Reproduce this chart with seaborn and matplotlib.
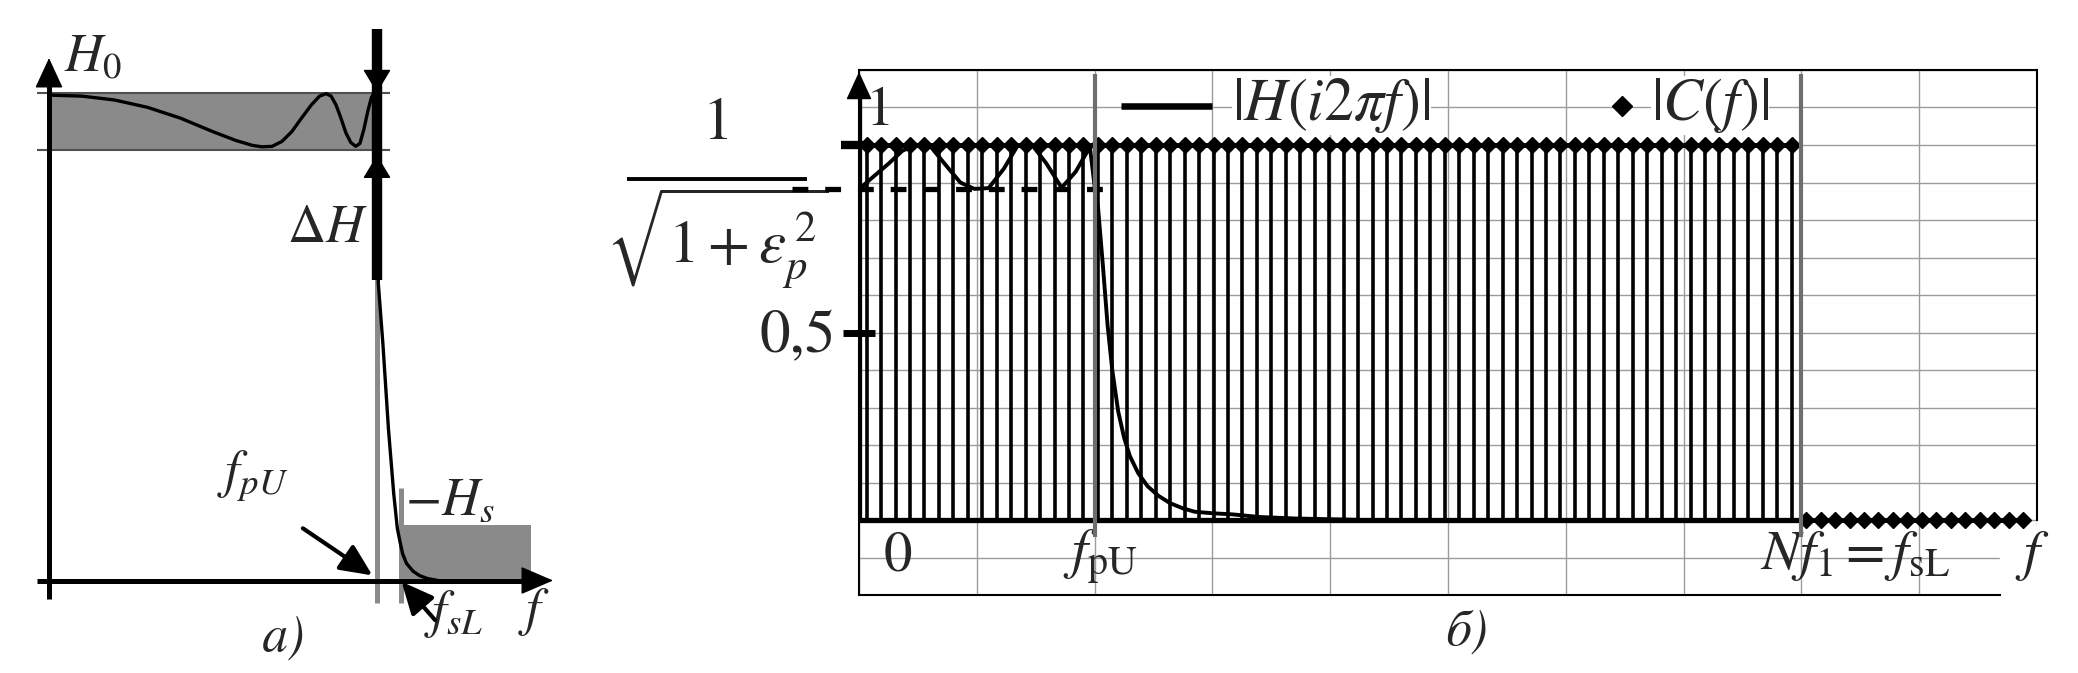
import numpy as np
import matplotlib
matplotlib.use("Agg")
import matplotlib.pyplot as plt
from matplotlib.patches import Rectangle
import seaborn as sns

sns.set_style("white")
plt.rcParams["font.family"] = ["STIXGeneral", "Liberation Serif", "DejaVu Serif"]
plt.rcParams["mathtext.fontset"] = "stix"

# ---- panel a: schematic lowpass response (f in units of f_pU, H in units of H0) ----
a_f = [0.0, 0.10, 0.20, 0.30, 0.40, 0.50, 0.57, 0.62, 0.65, 0.68, 0.71, 0.74, 0.77, 0.80, 0.825,
       0.845, 0.86, 0.875, 0.89, 0.905, 0.92, 0.935, 0.948, 0.96, 0.972, 0.983, 0.992,
       1.004, 1.018, 1.035, 1.051, 1.062, 1.07, 1.078, 1.09, 1.11, 1.13, 1.154, 1.186]
a_h = [0.995, 0.993, 0.985, 0.970, 0.948, 0.920, 0.902, 0.892, 0.889, 0.890, 0.900, 0.920, 0.948, 0.975, 0.993,
       0.998, 0.993, 0.975, 0.948, 0.918, 0.898, 0.890, 0.896, 0.925, 0.962, 0.990, 1.0,
       0.609, 0.485, 0.31, 0.178, 0.107, 0.08, 0.055, 0.035, 0.019, 0.010, 0.004, 0.0]
a_band_lo, a_band_hi = 0.883, 1.0
a_fpu, a_fsl = 1.0, 1.072
a_hs = 0.114
a_stop_end = 1.469

# ---- panel b: |H(i2pi f)| and line spectrum |C(f)| (f in grid units) ----
h_f = [0.0, 0.12, 0.25, 0.37, 0.49, 0.61, 0.74, 0.86, 0.98, 1.10, 1.23, 1.35, 1.47, 1.59, 1.72,
       1.84, 1.96, 2.00, 2.03, 2.07, 2.11, 2.15, 2.20, 2.25, 2.30, 2.37, 2.45, 2.54, 2.64, 2.75,
       2.85, 3.00, 3.17, 3.40, 3.70, 4.00, 4.30]
h_val = [0.882, 0.915, 0.950, 0.985, 1.0, 0.995, 0.945, 0.90, 0.883, 0.885, 0.937, 1.0, 1.0, 0.951, 0.886,
         0.929, 0.995, 0.89, 0.83, 0.68, 0.52, 0.40, 0.29, 0.22, 0.17, 0.125, 0.09, 0.065, 0.045, 0.031,
         0.022, 0.018, 0.015, 0.008, 0.004, 0.002, 0.0]
f_first, f1 = 0.065, 0.1227
n_pass, n_stop = 65, 16
c_pass = [1.0] * n_pass
c_stop = [0.0] * n_stop
fpU, fsL = 2.0, 8.0
ripple = 0.882

f_pass = f_first + f1 * np.arange(n_pass)
f_stop = f_first + f1 * np.arange(n_pass, n_pass + n_stop)

W, H = 2078, 673
fig = plt.figure(figsize=(W / 100, H / 100), dpi=100)

# ================= panel a =================
ax_a = fig.add_axes([0, 0, 600 / W, 1])
ax_a.set_xlim(-0.1494, 1.6799)
ax_a.set_ylim(-0.1896, 1.190)
ax_a.axis("off")

band_grey = "#8a8a8a"
ax_a.fill_between([0, a_fpu], a_band_lo, a_band_hi, color=band_grey, lw=0, zorder=1)
ax_a.hlines([a_band_hi, a_band_lo], -0.036, 1.04, color="#505050", lw=1.5, zorder=2)
ax_a.fill_between([a_fsl, a_stop_end], 0, a_hs, color=band_grey, lw=0, zorder=1)
ax_a.vlines(a_fpu, -0.046, 0.62, color="#8a8a8a", lw=3.6, zorder=3)
ax_a.vlines(a_fsl, -0.046, 0.19, color="#8a8a8a", lw=3.6, zorder=3)
sns.lineplot(x=a_f, y=a_h, ax=ax_a, color="k", lw=2.4, sort=False, estimator=None, zorder=4)

head = dict(color="k", lw=1, shrinkA=0, shrinkB=0, mutation_scale=15)
ax_a.vlines(0, -0.038, 1.03, color="k", lw=3.6, zorder=5)
ax_a.annotate("", xy=(0, 1.071), xytext=(0, 1.0),
              arrowprops=dict(arrowstyle="-|>,head_length=1.3,head_width=0.6", **head))
ax_a.hlines(0, -0.037, 1.49, color="k", lw=3.6, zorder=5)
ax_a.annotate("", xy=(1.537, 0), xytext=(1.45, 0),
              arrowprops=dict(arrowstyle="-|>,head_length=1.4,head_width=0.6", **head))

# delta H marker
ax_a.vlines(a_fpu, 0.616, 1.131, color="k", lw=7.5, zorder=6)
ax_a.annotate("", xy=(a_fpu, a_band_hi), xytext=(a_fpu, 1.08),
              arrowprops=dict(arrowstyle="-|>,head_length=1.0,head_width=0.6", **head), zorder=7)
ax_a.annotate("", xy=(a_fpu, 0.872), xytext=(a_fpu, 0.80),
              arrowprops=dict(arrowstyle="-|>,head_length=1.0,head_width=0.6", **head), zorder=7)

fs_a = 38
ax_a.text(0.045, 1.07, r"$H_0$", fontsize=fs_a, ha="left", va="center")
ax_a.text(0.97, 0.72, r"$\Delta H$", fontsize=fs_a, ha="right", va="center")
ax_a.text(0.62, 0.215, r"$f_{pU}$", fontsize=fs_a, ha="center", va="center")
ax_a.text(1.085, 0.16, r"$-H_s$", fontsize=fs_a, ha="left", va="center")
ax_a.text(1.235, -0.068, r"$f_{sL}$", fontsize=fs_a, ha="center", va="center")
ax_a.text(1.48, -0.065, r"$f$", fontsize=fs_a, ha="center", va="center")
ax_a.text(0.715, -0.12, "а)", fontsize=37, style="italic", ha="center", va="center")
ax_a.annotate("", xy=(0.986, 0.0105), xytext=(0.774, 0.107),
              arrowprops=dict(arrowstyle="-|>,head_length=1.3,head_width=0.6", color="k", lw=3,
                              shrinkA=0, shrinkB=0, mutation_scale=15))
ax_a.annotate("", xy=(1.075, -0.0025), xytext=(1.177, -0.081),
              arrowprops=dict(arrowstyle="-|>,head_length=1.3,head_width=0.6", color="k", lw=3,
                              shrinkA=0, shrinkB=0, mutation_scale=15))

# ================= panel b =================
ax_b = fig.add_axes([859 / W, (673 - 595) / H, 1178 / W, 525 / H])
ax_b.set_xlim(0, 10)
ax_b.set_ylim(-0.2, 1.2)
ax_b.set_xticks(np.arange(0, 11))
ax_b.set_yticks(np.round(np.arange(-0.2, 1.21, 0.1), 2))
ax_b.tick_params(length=0, labelbottom=False, labelleft=False)
ax_b.grid(True, color="#9c9c9c", lw=1.0)
ax_b.set_axisbelow(True)
for s in ax_b.spines.values():
    s.set_color("k")
    s.set_linewidth(1.5)
ax_b.spines["right"].set_bounds(0, 1.2)
ax_b.spines["bottom"].set_bounds(0, 9.69)
ax_b.add_patch(Rectangle((9.69, -0.21), 0.6, 0.195, color="white", zorder=1, clip_on=False))

ax_b.vlines(f_pass, 0, c_pass, color="k", lw=2.6, zorder=2)
ax_b.hlines(0, 0, fsL, color="k", lw=3.8, zorder=3)
ax_b.plot(f_pass, c_pass, color="k", lw=3.5, marker="D", ms=8, zorder=3)
ax_b.plot(f_stop, c_stop, color="k", lw=3.5, marker="D", ms=8, zorder=3, clip_on=False)
ax_b.annotate("", xy=(10.09, 0), xytext=(9.9, 0),
              arrowprops=dict(arrowstyle="-|>,head_length=1.2,head_width=0.55", **head))
sns.lineplot(x=h_f, y=h_val, ax=ax_b, color="k", lw=2.8, sort=False, estimator=None, zorder=4)
ax_b.hlines(ripple, -0.57, 2.2, color="k", lw=3.8, linestyles=[(0, (3.0, 3.2))], zorder=4, clip_on=False)
ax_b.vlines([fpU, fsL], -0.045, 1.19, color="#6e6e6e", lw=3, zorder=5)

# y axis with arrow and ticks
ax_b.vlines(0, 0, 1.15, color="k", lw=3.8, zorder=6)
ax_b.annotate("", xy=(0, 1.195), xytext=(0, 1.12),
              arrowprops=dict(arrowstyle="-|>,head_length=1.2,head_width=0.55", **head))
ax_b.hlines(1.0, -0.155, 0.034, color="k", lw=6, zorder=6, clip_on=False)
ax_b.hlines(0.5, -0.14, 0.14, color="k", lw=5, zorder=6, clip_on=False)

fs_b = 41
ax_b.text(0.18, 1.09, "1", fontsize=fs_b, ha="center", va="center")
ax_b.text(-0.20, 0.486, "0,5", fontsize=44, ha="right", va="center")
ax_b.text(0.33, -0.098, "0", fontsize=fs_b, ha="center", va="center")
ax_b.text(2.05, -0.10, r"$f_{\rm pU}$", fontsize=fs_b, ha="center", va="center")
ax_b.text(8.46, -0.095, r"$Nf_1=f_{\rm sL}$", fontsize=fs_b, ha="center", va="center")
ax_b.text(9.96, -0.095, r"$f$", fontsize=fs_b, ha="center", va="center", zorder=7)
ax_b.text(5.16, -0.30, "б)", fontsize=37, style="italic", ha="center", va="center", clip_on=False)

# passband ripple level label
ax_b.text(-1.205, 1.053, "1", fontsize=44, ha="center", va="center", clip_on=False)
ax_b.hlines(0.909, -1.972, -0.444, color="k", lw=2.8, clip_on=False)
ax_b.text(-1.2, 0.891, r"$\sqrt{1+\varepsilon_p^{\,2}}$", fontsize=44, ha="center", va="top", clip_on=False)

# legend
ax_b.hlines(1.105, 2.22, 3.0, color="k", lw=4.7, zorder=6)
ax_b.text(3.17, 1.105, r"$|H(i2\pi f)|$", fontsize=43, ha="left", va="center",
          bbox=dict(fc="white", ec="none", pad=0), zorder=6)
ax_b.plot([6.48], [1.105], marker="D", ms=10, color="k", zorder=6)
ax_b.text(6.72, 1.105, r"$|C(f)|$", fontsize=43, ha="left", va="center",
          bbox=dict(fc="white", ec="none", pad=0), zorder=6)

fig.savefig("out.png", dpi=100)
